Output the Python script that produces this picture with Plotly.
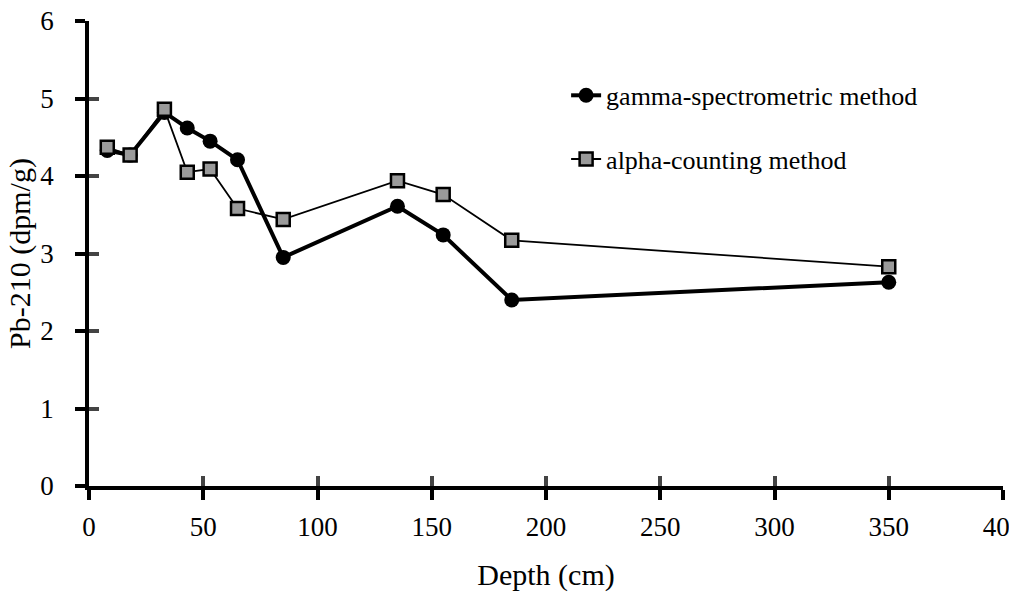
import plotly.graph_objects as go

depth = [8, 18, 33, 43, 53, 65, 85, 135, 155, 185, 350]
gamma = [4.33, 4.27, 4.82, 4.62, 4.45, 4.21, 2.95, 3.61, 3.24, 2.40, 2.63]
alpha = [4.37, 4.27, 4.86, 4.05, 4.09, 3.58, 3.44, 3.94, 3.76, 3.17, 2.83]

x_ticks = [0, 50, 100, 150, 200, 250, 300, 350, 400]
y_ticks = [0, 1, 2, 3, 4, 5, 6]

FONT = "Liberation Serif"

fig = go.Figure()
fig.add_trace(go.Scatter(
    x=depth, y=gamma, mode="lines+markers", name="gamma-spectrometric method",
    line=dict(color="black", width=4),
    marker=dict(symbol="circle", size=15, color="black"),
    legend="legend", showlegend=True, cliponaxis=False,
))
fig.add_trace(go.Scatter(
    x=depth, y=alpha, mode="lines+markers", name="alpha-counting method",
    line=dict(color="black", width=1.8),
    marker=dict(symbol="square", size=13, color="#9a9a9a",
                line=dict(color="black", width=2.5)),
    legend="legend2", showlegend=True, cliponaxis=False,
))
# empty helper traces so the tick-overlay axes exist
fig.add_trace(go.Scatter(x=[], y=[], xaxis="x2", yaxis="y", showlegend=False))
fig.add_trace(go.Scatter(x=[], y=[], xaxis="x", yaxis="y2", showlegend=False))

axis_common = dict(showgrid=False, zeroline=False, color="black",
                   tickfont=dict(family=FONT, size=27, color="black"),
                   automargin=False)

fig.update_layout(
    template="none",
    showlegend=True,
    width=1009, height=592,
    margin=dict(l=89, r=6, t=21, b=106),
    paper_bgcolor="white", plot_bgcolor="white",
    font=dict(family=FONT, color="black"),
    xaxis=dict(range=[0, 400], tickvals=x_ticks, ticks="outside", ticklen=10,
               tickwidth=3.5, showline=True, linewidth=3.8, linecolor="black",
               ticklabelstandoff=4, ticklabeloverflow="allow",
               title=dict(text="Depth (cm)", font=dict(family=FONT, size=30),
                          standoff=24),
               **axis_common),
    yaxis=dict(range=[0, 6], tickvals=y_ticks, ticks="outside", ticklen=10,
               tickwidth=3.5, showline=True, linewidth=3.8, linecolor="black",
               ticklabelstandoff=16,
               title=dict(text="Pb-210 (dpm/g)", font=dict(family=FONT, size=30),
                          standoff=2),
               **axis_common),
    xaxis2=dict(range=[0, 400], tickvals=x_ticks, overlaying="x", anchor="y",
                side="bottom", ticks="inside", ticklen=10, tickwidth=3.5,
                showline=False, showticklabels=False, showgrid=False,
                zeroline=False, automargin=False),
    yaxis2=dict(range=[0, 6], tickvals=y_ticks, overlaying="y", anchor="x",
                side="left", ticks="inside", ticklen=10, tickwidth=3.5,
                showline=False, showticklabels=False, showgrid=False,
                zeroline=False, automargin=False),
    legend=dict(x=0.522, y=0.84, xanchor="left", yanchor="middle",
                bgcolor="rgba(0,0,0,0)", visible=True,
                font=dict(family=FONT, size=26, color="black")),
    legend2=dict(x=0.522, y=0.703, xanchor="left", yanchor="middle",
                 bgcolor="rgba(0,0,0,0)", visible=True,
                 font=dict(family=FONT, size=26, color="black")),
)

fig.write_html("out.html")
